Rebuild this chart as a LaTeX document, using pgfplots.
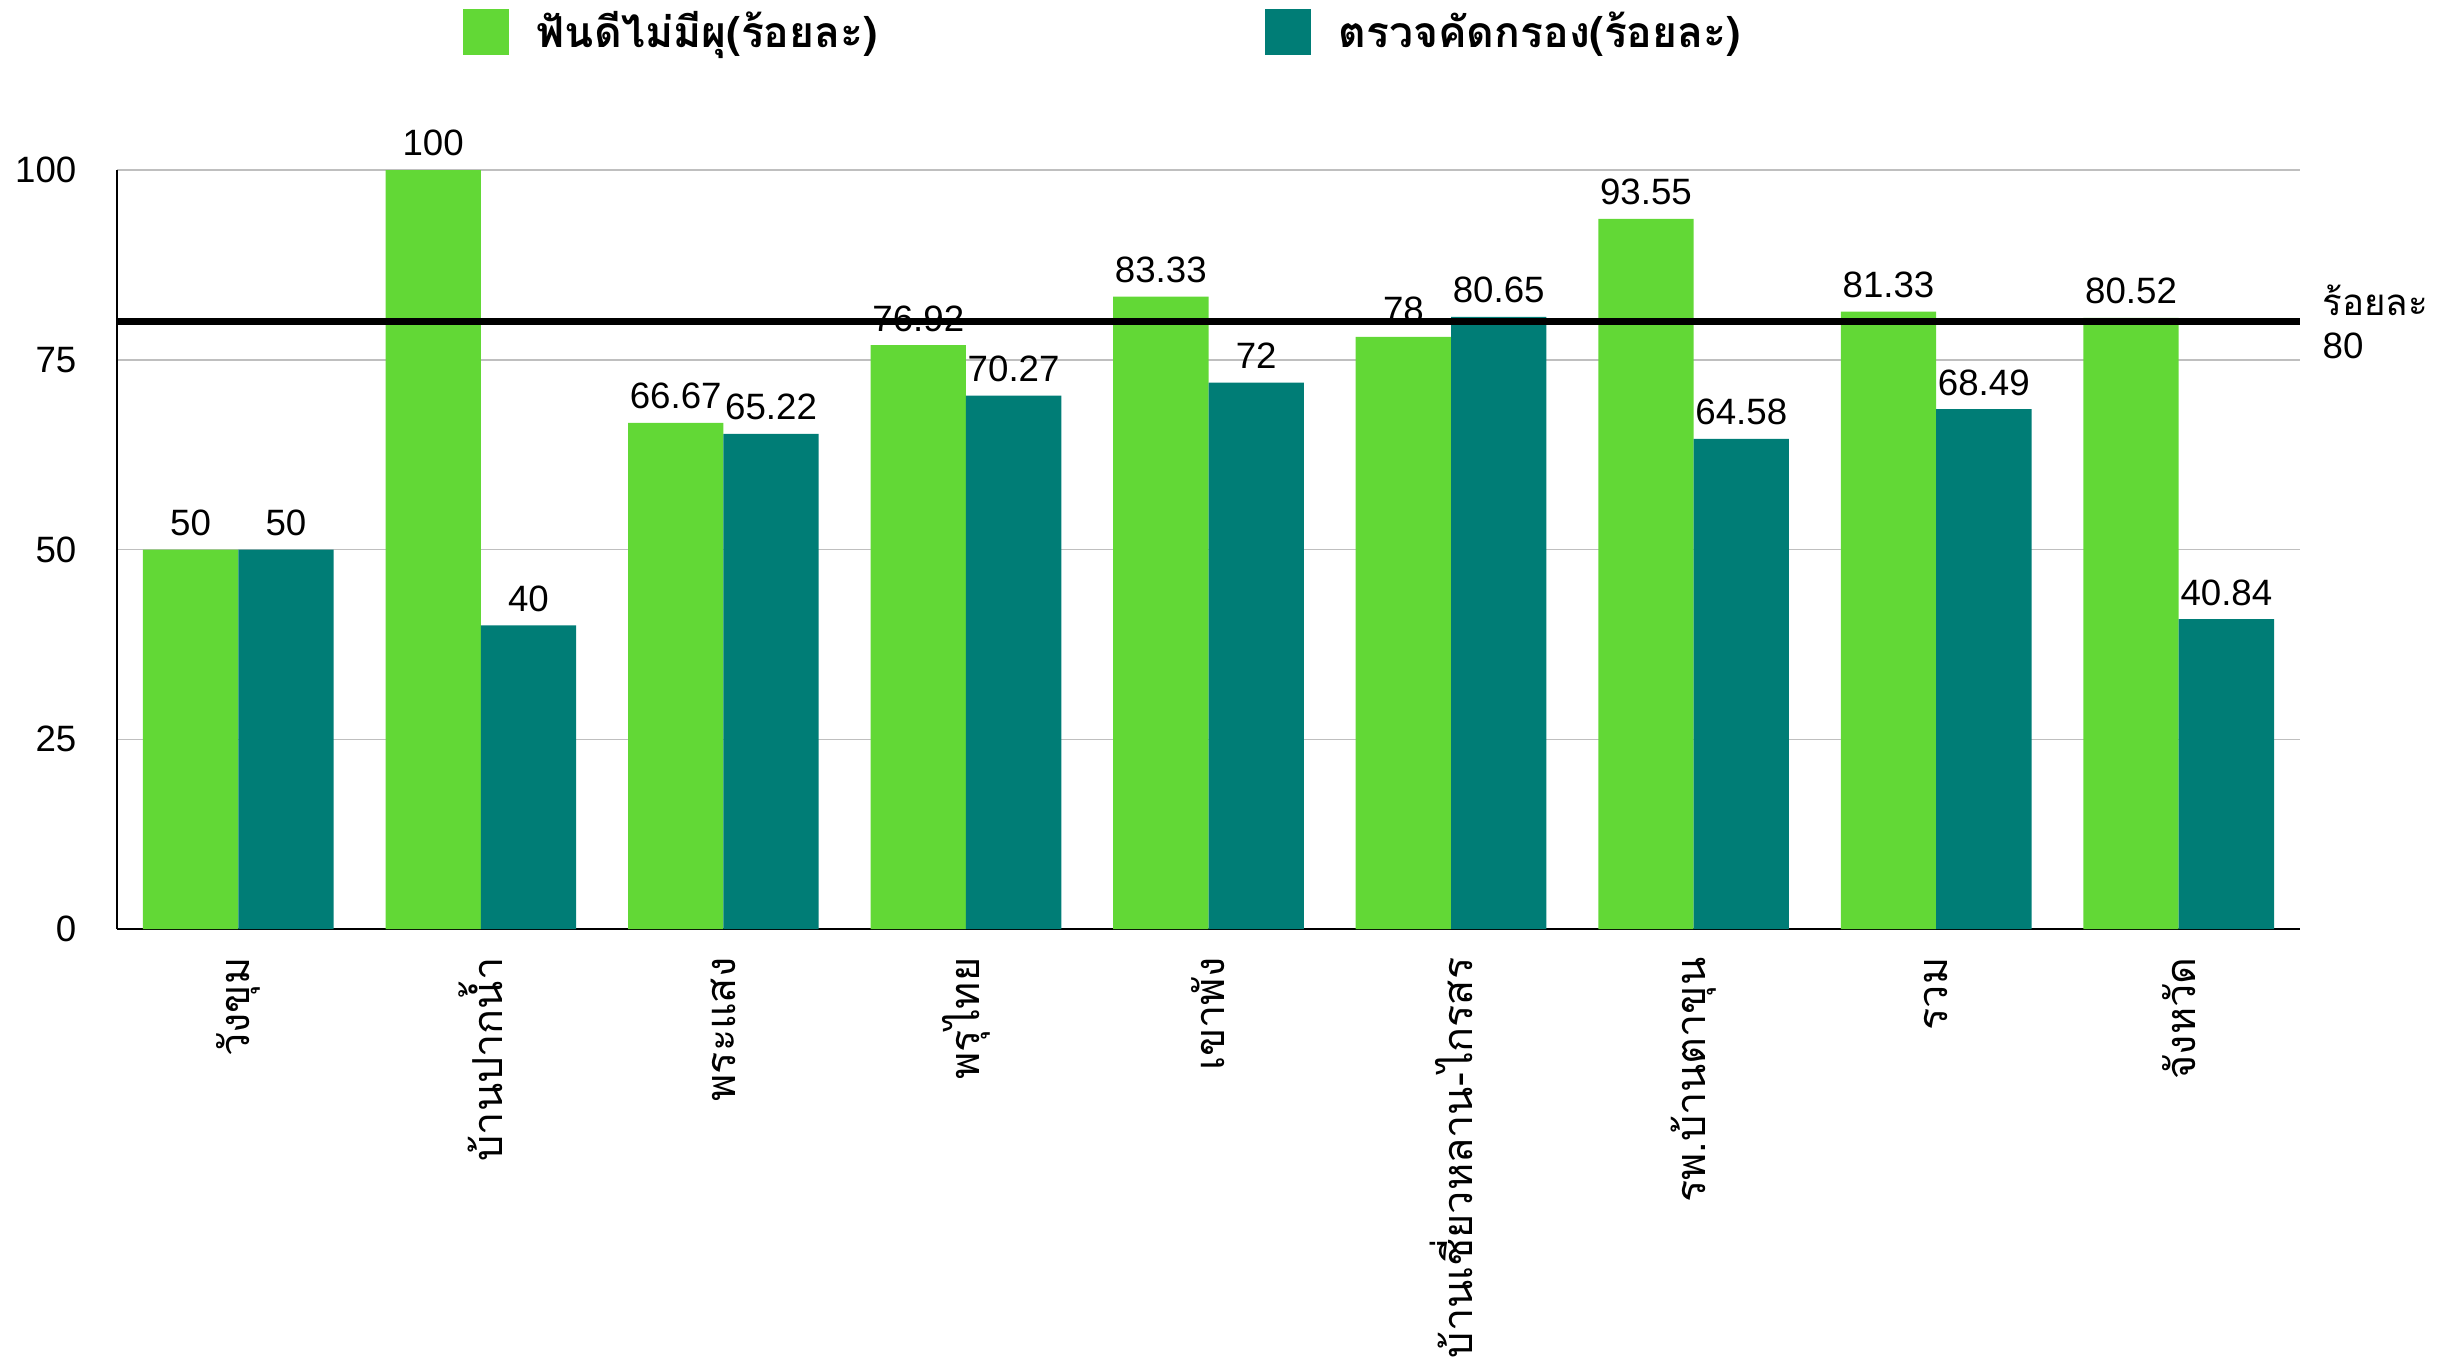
\documentclass[border=0pt]{standalone}
\usepackage{fontspec}
\setmainfont{Liberation Sans}
\newfontfamily\thaifont[Script=Thai]{Loma}
\usepackage{pgfplots}
\pgfplotsset{compat=1.18}
\definecolor{cgreen}{RGB}{98,216,54}
\definecolor{cteal}{RGB}{0,125,118}
\definecolor{cgrid}{RGB}{191,191,191}
\begin{document}
\begin{tikzpicture}
\path[use as bounding box] (-35.1pt,-131.1pt) rectangle (701.1pt,278.7pt);
\begin{axis}[
  at={(0,0)}, anchor=south west,
  width=654.9pt, height=227.7pt, scale only axis,
  xmin=-0.5, xmax=8.5, ymin=0, ymax=100,
  axis x line*=bottom, axis y line*=left,
  x axis line style={-, line width=0.8pt, black},
  y axis line style={-, line width=0.6pt, black},
  ytick={0,25,50,75,100},
  xtick={0,...,8},
  xticklabels={วังขุม,บ้านปากน้ำ,พระแสง,พรุไทย,เขาพัง,บ้านเชี่ยวหลาน-ไกรสร,รพ.บ้านตาขุน,รวม,จังหวัด},
  major tick length=0pt,
  ymajorgrids, grid style={cgrid, line width=0.45pt},
  /pgf/number format/assume math mode=true,
  yticklabel style={font=\fontsize{11}{13}\selectfont, inner sep=0pt},
  yticklabel shift=12pt,
  xticklabel style={font=\thaifont\fontsize{12.4}{14}\selectfont, rotate=90, anchor=east, inner sep=0pt},
  xticklabel shift=8.4pt,
  ybar, bar width=28.6pt,
  clip=false,
  legend columns=2,
  legend style={at={(0.158,1.182)}, anchor=west, draw=none, fill=none, inner sep=0pt,
    font=\thaifont\bfseries\fontsize{12.8}{14}\selectfont,
    /tikz/every odd column/.append style={column sep=6.5pt},
    /tikz/every even column/.append style={column sep=114pt}},
  point meta=explicit symbolic,
]
\addplot[fill=cgreen, draw=none, bar shift=-14.3pt,
  legend image code/.code={\fill[cgreen] (0pt,-6.9pt) rectangle (13.8pt,6.9pt);},
  nodes near coords, nodes near coords style={font=\fontsize{11}{13}\selectfont, anchor=south, inner sep=0pt, yshift=3.9pt, text=black}]
coordinates {(0,50)[50] (1,100)[100] (2,66.67)[66.67] (3,76.92)[76.92] (4,83.33)[83.33] (5,78)[78] (6,93.55)[93.55] (7,81.33)[81.33] (8,80.52)[80.52]};
\addlegendentry{ฟันดีไม่มีผุ(ร้อยละ)}
\addplot[fill=cteal, draw=none, bar shift=14.3pt,
  legend image code/.code={\fill[cteal] (0pt,-6.9pt) rectangle (13.8pt,6.9pt);},
  nodes near coords, nodes near coords style={font=\fontsize{11}{13}\selectfont, anchor=south, inner sep=0pt, yshift=3.9pt, text=black}]
coordinates {(0,50)[50] (1,40)[40] (2,65.22)[65.22] (3,70.27)[70.27] (4,72)[72] (5,80.65)[80.65] (6,64.58)[64.58] (7,68.49)[68.49] (8,40.84)[40.84]};
\addlegendentry{ตรวจคัดกรอง(ร้อยละ)}
\addplot[sharp plot, black, line width=2.1pt, forget plot, mark=none]
coordinates {(-0.5,80) (8.5,80)};
\node[anchor=west, align=left, inner sep=0pt, font=\fontsize{11}{13}\selectfont] at (axis cs:8.5,80) [xshift=6.6pt] {{\thaifont ร้อยละ}\\80};
\end{axis}
\end{tikzpicture}
\end{document}
